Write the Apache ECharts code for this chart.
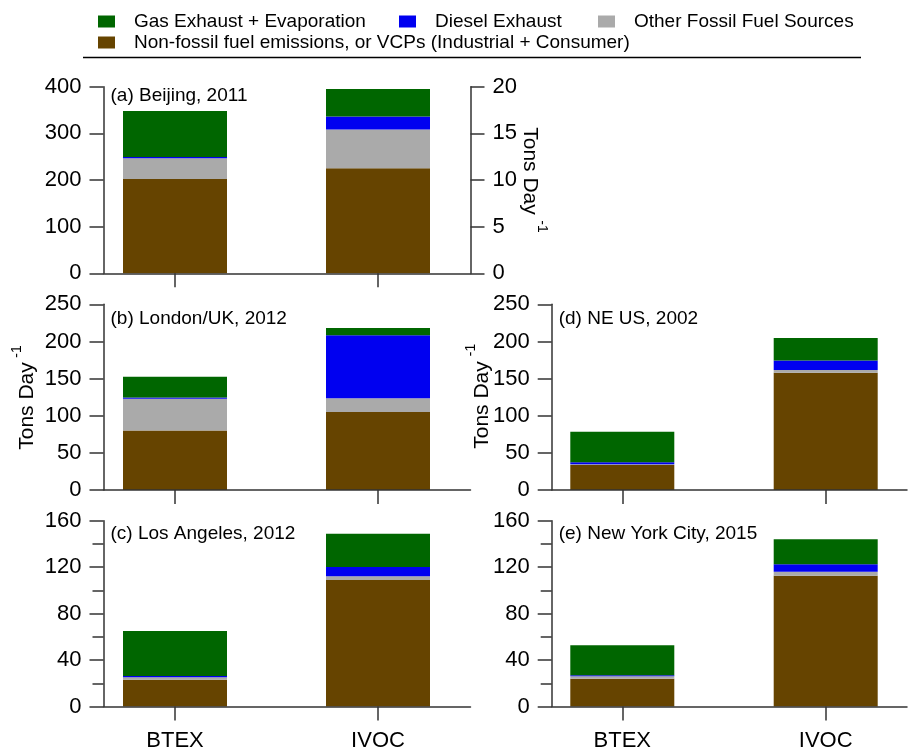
<!DOCTYPE html>
<html>
<head>
<meta charset="utf-8">
<script src="https://cdn.jsdelivr.net/npm/echarts@6/dist/echarts.min.js"></script>
<style>
html,body{margin:0;padding:0;background:#fff;}
#chart{width:909px;height:751px;}
</style>
</head>
<body>
<div id="chart"></div>
<script>
// ---------- data ----------
const categories = ['BTEX', 'IVOC'];
const seriesNames = [
  'Non-fossil fuel emissions, or VCPs (Industrial + Consumer)',
  'Other Fossil Fuel Sources',
  'Diesel Exhaust',
  'Gas Exhaust + Evaporation'
];
const seriesColors = ['#664400', '#aaaaaa', '#0000f0', '#006600'];
const panelTitles = ['(a) Beijing, 2011', '(b) London/UK, 2012', '(c) Los Angeles, 2012', '(d) NE US, 2002', '(e) New York City, 2015'];
const unitText = 'Tons Day';
const unitSup = '-1';

// values: [BTEX, IVOC] in tons/day
const beijingVCP    = [202, 225];
const beijingOther  = [44.5, 83];
const beijingDiesel = [3, 28];
const beijingGas    = [98.5, 59];

const londonVCP     = [80, 105];
const londonOther   = [43, 18.5];
const londonDiesel  = [1.5, 85];
const londonGas     = [28, 9.5];

const laVCP         = [23, 109];
const laOther       = [2.2, 3.2];
const laDiesel      = [1.1, 8];
const laGas         = [38.7, 28.6];

const neusVCP       = [33.5, 158];
const neusOther     = [1.2, 3.5];
const neusDiesel    = [2.5, 13];
const neusGas       = [41.3, 30.2];

const nycVCP        = [24, 112.5];
const nycOther      = [2, 3.5];
const nycDiesel     = [1, 6.5];
const nycGas        = [25.7, 21.5];

// axis ranges
const yMaxA = 400, yStepA = 100;
const yMaxRightA = 20, yStepRightA = 5;
const yMaxB = 250, yStepB = 50;
const yMaxC = 160, yStepC = 40;

// ---------- layout ----------
const FONT = '"Liberation Sans", Arial, Helvetica, sans-serif';
const AX = '#333';
const L = {left: 103.5, right: 470.5, c0: 175, c1: 378};
const R = {left: 551.7, right: 907, c0: 622.3, c1: 825.7};
function xr(s) {
  const ppu = s.c1 - s.c0;
  return [-(s.c0 - s.left) / ppu, 1 + (s.right - s.c1) / ppu];
}
const rowA = {top: 86.7, bottom: 273.3};
const rowB = {top: 304.3, bottom: 490};
const rowC = {top: 520.7, bottom: 706.5};

const panels = [
  {side: L, row: rowA, max: yMaxA, step: yStepA, minor: false, cat: false, data: [beijingVCP, beijingOther, beijingDiesel, beijingGas], titleTop: 86},
  {side: L, row: rowB, max: yMaxB, step: yStepB, minor: false, cat: false, data: [londonVCP, londonOther, londonDiesel, londonGas], titleTop: 309},
  {side: L, row: rowC, max: yMaxC, step: yStepC, minor: true, cat: true, data: [laVCP, laOther, laDiesel, laGas], titleTop: 524},
  {side: R, row: rowB, max: yMaxB, step: yStepB, minor: false, cat: false, data: [neusVCP, neusOther, neusDiesel, neusGas], titleTop: 309},
  {side: R, row: rowC, max: yMaxC, step: yStepC, minor: true, cat: true, data: [nycVCP, nycOther, nycDiesel, nycGas], titleTop: 524}
];

const lineStyle = {color: AX, width: 1.5};
const grid = [], xAxis = [], yAxis = [], series = [], title = [];
panels.forEach((p, i) => {
  const h = p.row.bottom - p.row.top;
  const band = p.side.c1 - p.side.c0;
  // grid for the bars: category axis whose bands are centred on the tick positions
  const gBar = grid.length;
  grid.push({left: p.side.c0 - band / 2, top: p.row.top, width: band * 2, height: h, outerBoundsMode: 'none', containLabel: false});
  xAxis.push({
    type: 'category', gridIndex: gBar, data: categories,
    axisLine: {show: false}, axisTick: {show: false}, axisLabel: {show: false}, splitLine: {show: false}
  });
  yAxis.push({
    type: 'value', gridIndex: gBar, min: 0, max: p.max, interval: p.step,
    axisLine: {show: false}, axisTick: {show: false}, axisLabel: {show: false}, splitLine: {show: false}
  });
  const xBar = xAxis.length - 1, yBar = yAxis.length - 1;
  p.data.forEach((vals, k) => {
    series.push({
      type: 'bar', name: seriesNames[k], xAxisIndex: xBar, yAxisIndex: yBar, stack: 'p' + i,
      barWidth: 104, itemStyle: {color: seriesColors[k]},
      emphasis: {disabled: true}, animation: false,
      data: vals
    });
  });
  // grid for the visible frame axes
  const gAx = grid.length;
  grid.push({left: p.side.left, top: p.row.top, width: p.side.right - p.side.left, height: h, z: 3, outerBoundsMode: 'none', containLabel: false});
  const [mn, mx] = xr(p.side);
  xAxis.push({
    type: 'value', gridIndex: gAx, min: mn, max: mx, z: 3,
    axisLine: {show: true, onZero: false, lineStyle},
    axisTick: {show: true, customValues: [0, 1], length: 14, lineStyle},
    axisLabel: {show: p.cat, customValues: [0, 1], formatter: v => categories[Math.round(v)] || '', fontSize: 22, color: '#000', fontFamily: FONT, margin: 23},
    splitLine: {show: false}
  });
  yAxis.push({
    type: 'value', gridIndex: gAx, min: 0, max: p.max, interval: p.step, position: 'left', z: 3,
    axisLine: {show: true, onZero: false, lineStyle},
    axisTick: {show: true, length: 14, lineStyle},
    minorTick: {show: p.minor, splitNumber: 2, length: 11, lineStyle},
    axisLabel: {fontSize: 22, color: '#000', fontFamily: FONT, margin: 22},
    splitLine: {show: false}
  });
  if (i === 0) {
    yAxis.push({
      type: 'value', gridIndex: gAx, min: 0, max: yMaxRightA, interval: yStepRightA, position: 'right', z: 3,
      axisLine: {show: true, onZero: false, lineStyle},
      axisTick: {show: true, length: 14, lineStyle},
      axisLabel: {fontSize: 22, color: '#000', fontFamily: FONT, margin: 22},
      splitLine: {show: false}
    });
  }
  title.push({
    text: panelTitles[i], left: p.side.left + 7, top: p.titleTop, padding: 0,
    textStyle: {fontSize: 19, fontWeight: 'normal', color: '#000', fontFamily: FONT}
  });
});

function legendAt(name, left, top) {
  return {
    data: [name], left: left, top: top, padding: 0, orient: 'horizontal',
    itemWidth: 17, itemHeight: 12, icon: 'rect', selectedMode: false,
    formatter: n => '{p|}' + n,
    textStyle: {fontSize: 19, color: '#000', fontFamily: FONT, rich: {p: {width: 14}}}
  };
}
const legend = [
  legendAt(seriesNames[3], 98, 12),
  legendAt(seriesNames[2], 399, 12),
  legendAt(seriesNames[1], 598, 12),
  legendAt(seriesNames[0], 98, 33)
];

function unitLabel(cx, cy, sx, sy, rot) {
  return [
    {type: 'text', x: cx, y: cy, rotation: rot, silent: true,
     style: {text: unitText, fontSize: 21, fontFamily: FONT, fill: '#000', align: 'center', verticalAlign: 'middle'}},
    {type: 'text', x: sx, y: sy, rotation: rot, silent: true,
     style: {text: unitSup, fontSize: 14, fontFamily: FONT, fill: '#000', align: 'center', verticalAlign: 'middle'}}
  ];
}
const graphic = [
  {type: 'line', silent: true, shape: {x1: 83, y1: 57.5, x2: 861, y2: 57.5}, style: {stroke: '#000', lineWidth: 1.5}},
  ...unitLabel(27.7, 406, 16.7, 351.5, Math.PI / 2),
  ...unitLabel(482.6, 405, 471, 350, Math.PI / 2),
  ...unitLabel(529.4, 171, 541.5, 226.5, -Math.PI / 2)
];

const chart = echarts.init(document.getElementById('chart'), null, {renderer: 'canvas'});
chart.setOption({
  backgroundColor: '#fff',
  animation: false,
  title, legend, grid, xAxis, yAxis, series, graphic
});
</script>
</body>
</html>
